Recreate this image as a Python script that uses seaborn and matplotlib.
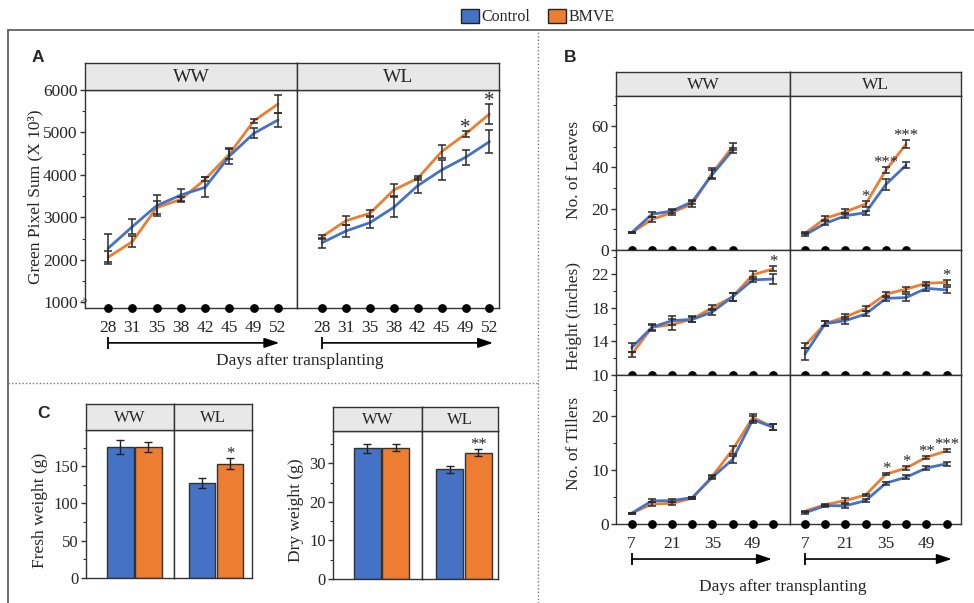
import numpy as np
import pandas as pd
import matplotlib
matplotlib.use('Agg')
import matplotlib.pyplot as plt
import matplotlib.transforms as mtransforms
import seaborn as sns
from matplotlib.patches import Patch
from matplotlib.lines import Line2D
from matplotlib.ticker import MultipleLocator, FixedLocator

# ---------------- data ----------------
treatments = ['Control', 'BMVE']
colors = {'Control': '#4472C4', 'BMVE': '#ED7D31'}

# Panel A: green pixel sum (x 10^3)
gps_days = [28, 31, 35, 38, 42, 45, 49, 52]
gps_ww_ctrl = [2275, 2784, 3278, 3529, 3710, 4447, 4980, 5294]
gps_ww_ctrl_se = [330, 175, 250, 150, 235, 195, 118, 172]
gps_ww_bmve = [2063, 2431, 3231, 3427, 3898, 4494, 5271, 5671]
gps_ww_bmve_se = [160, 125, 150, 65, 50, 120, 40, 205]
gps_wl_ctrl = [2408, 2682, 2878, 3239, 3749, 4118, 4416, 4784]
gps_wl_ctrl_se = [118, 133, 125, 235, 176, 235, 176, 275]
gps_wl_bmve = [2549, 2925, 3098, 3647, 3922, 4549, 4965, 5435]
gps_wl_bmve_se = [45, 105, 70, 137, 47, 157, 78, 235]
gps_ww_stars = {}
gps_wl_stars = {49: '*', 52: '*'}
gps_yticks = [1000, 2000, 3000, 4000, 5000, 6000]

# Panel B
leaf_days = [7, 14, 21, 28, 35, 42]
leaf_ww_ctrl = [8.4, 17.3, 18.9, 23.4, 36.6, 48.4]
leaf_ww_ctrl_se = [0.3, 1.2, 1.2, 1.0, 2.0, 1.2]
leaf_ww_bmve = [8.4, 14.8, 18.2, 22.3, 37.4, 50.0]
leaf_ww_bmve_se = [0.3, 1.0, 1.2, 1.5, 2.5, 1.7]
leaf_wl_ctrl = [7.3, 12.9, 16.6, 18.1, 31.8, 41.1]
leaf_wl_ctrl_se = [0.7, 1.0, 1.2, 1.0, 2.5, 1.5]
leaf_wl_bmve = [8.1, 15.3, 18.5, 22.3, 38.7, 51.3]
leaf_wl_bmve_se = [0.5, 1.0, 1.3, 1.5, 1.5, 2.0]
leaf_ww_stars = {}
leaf_wl_stars = {28: '*', 35: '***', 42: '***'}

grow_days = [7, 14, 21, 28, 35, 42, 49, 56]
height_ww_ctrl = [13.25, 15.66, 16.46, 16.6, 17.5, 19.3, 21.3, 21.4]
height_ww_ctrl_se = [0.5, 0.4, 0.5, 0.3, 0.4, 0.5, 0.3, 0.6]
height_ww_bmve = [12.45, 15.66, 16.0, 16.65, 18.0, 19.3, 21.9, 22.6]
height_ww_bmve_se = [0.3, 0.3, 0.6, 0.3, 0.3, 0.5, 0.5, 0.3]
height_wl_ctrl = [12.5, 16.1, 16.46, 17.25, 19.1, 19.2, 20.3, 20.1]
height_wl_ctrl_se = [0.7, 0.3, 0.4, 0.3, 0.3, 0.4, 0.3, 0.4]
height_wl_bmve = [13.5, 16.1, 16.9, 17.9, 19.6, 20.2, 20.9, 21.0]
height_wl_bmve_se = [0.3, 0.3, 0.3, 0.3, 0.3, 0.3, 0.2, 0.3]
height_ww_stars = {56: '*'}
height_wl_stars = {56: '*'}

till_ww_ctrl = [2.0, 4.3, 4.35, 4.9, 8.7, 12.0, 19.4, 18.0]
till_ww_ctrl_se = [0.1, 0.3, 0.3, 0.2, 0.3, 0.7, 0.7, 0.6]
till_ww_bmve = [2.0, 3.7, 3.85, 4.8, 8.9, 13.8, 19.8, 18.0]
till_ww_bmve_se = [0.1, 0.3, 0.3, 0.2, 0.3, 0.7, 0.7, 0.6]
till_wl_ctrl = [2.1, 3.4, 3.4, 4.35, 7.6, 8.7, 10.4, 11.2]
till_wl_ctrl_se = [0.2, 0.2, 0.4, 0.3, 0.3, 0.4, 0.3, 0.4]
till_wl_bmve = [2.4, 3.6, 4.35, 5.4, 9.25, 10.4, 12.4, 13.6]
till_wl_bmve_se = [0.1, 0.2, 0.4, 0.2, 0.2, 0.3, 0.3, 0.3]
till_ww_stars = {}
till_wl_stars = {35: '*', 42: '*', 49: '**', 56: '***'}
b_xtick_labels = [7, 21, 35, 49]
leaf_yticks = [0, 20, 40, 60]
height_yticks = [10, 14, 18, 22]
till_yticks = [0, 10, 20]

# Panel C
fresh_ww = [175.9, 176.0]
fresh_ww_se = [9, 6.5]
fresh_wl = [127.7, 153.6]
fresh_wl_se = [7, 8]
fresh_wl_star = '*'
dry_ww = [33.9, 34.0]
dry_ww_se = [1.2, 0.9]
dry_wl = [28.5, 32.8]
dry_wl_se = [0.9, 1.0]
dry_wl_star = '**'
fresh_yticks = [0, 50, 100, 150]
dry_yticks = [0, 10, 20, 30]

# ---------------- style ----------------
sns.set_style('ticks')
plt.rcParams['font.family'] = ['Liberation Serif', 'DejaVu Serif']

W, H = 974, 603
fig = plt.figure(figsize=(W / 100, H / 100), dpi=100)

EDGE = '#333333'


def box(l, t, r, b):
    return [l / W, 1 - b / H, (r - l) / W, (b - t) / H]


def style_axes(ax):
    for s in ax.spines.values():
        s.set_visible(True)
        s.set_color(EDGE)
        s.set_linewidth(1.0)


def y_ticks(ax, major, minor, fs):
    ax.yaxis.set_major_locator(FixedLocator(major))
    ax.yaxis.set_minor_locator(FixedLocator(minor))
    ax.tick_params(axis='y', which='major', length=3.8, width=1.0, pad=1.5,
                   labelsize=fs, direction='out', left=True, color=EDGE)
    ax.tick_params(axis='y', which='minor', length=2.2, width=0.8,
                   direction='out', left=True, color=EDGE)


def strip(rect, label, fs):
    sax = fig.add_axes(rect)
    sax.set_facecolor('#E8E8E8')
    sax.set_xticks([])
    sax.set_yticks([])
    for s in sax.spines.values():
        s.set_visible(True)
        s.set_color(EDGE)
        s.set_linewidth(1.0)
    sax.text(0.5, 0.47, label, ha='center', va='center', fontsize=fs)
    return sax


def line_panel(ax, x, ctrl, ctrl_se, bmve, bmve_se, stars, star_fs=12, star_dy=0):
    n = len(x)
    df = pd.DataFrame({
        'x': list(x) * 2,
        'value': list(bmve) + list(ctrl),
        'se': list(bmve_se) + list(ctrl_se),
        'Treatment': ['BMVE'] * n + ['Control'] * n,
    })
    sns.lineplot(data=df, x='x', y='value', hue='Treatment', palette=colors,
                 hue_order=['BMVE', 'Control'], ax=ax, legend=False,
                 linewidth=2.0, errorbar=None)
    ax.errorbar(df['x'], df['value'], yerr=df['se'], fmt='none',
                ecolor='#2b2b2b', elinewidth=1.1, capsize=3, capthick=1.1,
                zorder=4)
    sub = df[df.Treatment == 'BMVE'].set_index('x')
    for key, s in stars.items():
        top = sub.loc[key, 'value'] + sub.loc[key, 'se']
        ax.annotate(s, (key, top), xytext=(0, star_dy), textcoords='offset points',
                    ha='center', va='baseline', fontsize=star_fs, zorder=7)
    ax.set_xlabel('')
    ax.set_ylabel('')


def bottom_dots(ax, xs):
    y0 = ax.get_ylim()[0]
    ax.scatter(xs, [y0] * len(xs), s=28, color='black', clip_on=False, zorder=6)


def arrow(ax, x0, x1, yfrac):
    ax.annotate('', xy=(x1, yfrac), xytext=(x0, yfrac),
                xycoords=('data', 'axes fraction'),
                textcoords=('data', 'axes fraction'),
                arrowprops=dict(arrowstyle='-|>,head_length=0.9,head_width=0.3',
                                color='black', lw=1.2, shrinkA=0, shrinkB=0),
                annotation_clip=False)
    trans = mtransforms.blended_transform_factory(ax.transData, ax.transAxes)
    ax.plot([x0], [yfrac], marker='|', markersize=9, markeredgewidth=1.3,
            color='black', transform=trans, clip_on=False)


# ---------------- Panel A ----------------
posA = np.arange(len(gps_days))
specsA = [
    ('WW', box(85, 90, 297, 308), box(85, 63, 297, 90), (-0.95, 7.78),
     gps_ww_ctrl, gps_ww_ctrl_se, gps_ww_bmve, gps_ww_bmve_se, gps_ww_stars, 7.05),
    ('WL', box(297, 90, 499, 308), box(297, 63, 499, 90), (-1.05, 7.4),
     gps_wl_ctrl, gps_wl_ctrl_se, gps_wl_bmve, gps_wl_bmve_se, gps_wl_stars, 7.15),
]
for i, (lab, rect, srect, xl, c, cse, b, bse, st, ax_end) in enumerate(specsA):
    ax = fig.add_axes(rect)
    stars_pos = {gps_days.index(k): v for k, v in st.items()}
    line_panel(ax, posA, c, cse, b, bse, stars_pos, star_fs=15, star_dy=-1.5)
    ax.set_xlim(*xl)
    style_axes(ax)
    ax.set_xticks(posA)
    ax.set_xticklabels(gps_days, fontsize=12.5)
    ax.tick_params(axis='x', length=0, pad=9)
    if i == 0:
        y_ticks(ax, gps_yticks, [1500, 2500, 3500, 4500, 5500], 12.5)
        ax.text(0, 0.035, '≈', transform=ax.transAxes, ha='center', va='center',
                fontsize=8, rotation=60, color=EDGE)
    else:
        ax.set_yticks([])
    ax.set_ylim(870, 6000)
    bottom_dots(ax, posA)
    arrow(ax, 0, ax_end, -0.16)
    strip(srect, lab, 14)

fig.text(35 / W, 1 - 197 / H, 'Green Pixel Sum (X 10³)', rotation=90,
         ha='center', va='center', fontsize=12.5)
fig.text(300 / W, 1 - 361 / H, 'Days after transplanting', ha='center',
         va='center', fontsize=12.5)

# ---------------- Panel B ----------------
colsB = [('WW', 616, 790), ('WL', 790, 961)]
rowsB = [('leaf', 96, 250), ('height', 250, 375), ('till', 375, 524)]
dataB = {
    ('leaf', 'WW'): (leaf_days, leaf_ww_ctrl, leaf_ww_ctrl_se, leaf_ww_bmve, leaf_ww_bmve_se, leaf_ww_stars),
    ('leaf', 'WL'): (leaf_days, leaf_wl_ctrl, leaf_wl_ctrl_se, leaf_wl_bmve, leaf_wl_bmve_se, leaf_wl_stars),
    ('height', 'WW'): (grow_days, height_ww_ctrl, height_ww_ctrl_se, height_ww_bmve, height_ww_bmve_se, height_ww_stars),
    ('height', 'WL'): (grow_days, height_wl_ctrl, height_wl_ctrl_se, height_wl_bmve, height_wl_bmve_se, height_wl_stars),
    ('till', 'WW'): (grow_days, till_ww_ctrl, till_ww_ctrl_se, till_ww_bmve, till_ww_bmve_se, till_ww_stars),
    ('till', 'WL'): (grow_days, till_wl_ctrl, till_wl_ctrl_se, till_wl_bmve, till_wl_bmve_se, till_wl_stars),
}
ylimsB = {'leaf': (0, 74.6), 'height': (10, 24.85), 'till': (0, 27.7)}
majB = {'leaf': leaf_yticks, 'height': height_yticks, 'till': till_yticks}
minB = {'leaf': [10, 30, 50, 70], 'height': [12, 16, 20, 24], 'till': [5, 15, 25]}
xlimsB = {'WW': (1.56, 61.9), 'WL': (1.8, 61.0)}
arrow_endB = {'WW': 55.6, 'WL': 57.8}

for ci, (clab, l, r) in enumerate(colsB):
    strip(box(l, 72, r, 96), clab, 12.5)
    for row, t, b in rowsB:
        ax = fig.add_axes(box(l, t, r, b))
        x, c, cse, bm, bse, st = dataB[(row, clab)]
        line_panel(ax, x, c, cse, bm, bse, st, star_fs=12, star_dy=0)
        ax.set_xlim(*xlimsB[clab])
        style_axes(ax)
        if ci == 0:
            y_ticks(ax, majB[row], minB[row], 12.5)
        else:
            ax.set_yticks([])
        ax.set_ylim(*ylimsB[row])
        if row == 'till':
            ax.set_xticks(b_xtick_labels)
            ax.set_xticklabels(b_xtick_labels, fontsize=12.5)
            ax.tick_params(axis='x', length=0, pad=9)
            arrow(ax, 7, arrow_endB[clab], -0.235)
        else:
            ax.set_xticks([])
        bottom_dots(ax, x)

fig.text(574 / W, 1 - 170 / H, 'No. of Leaves', rotation=90, ha='center', va='center', fontsize=12.5)
fig.text(574 / W, 1 - 316 / H, 'Height (inches)', rotation=90, ha='center', va='center', fontsize=12.5)
fig.text(574 / W, 1 - 443 / H, 'No. of Tillers', rotation=90, ha='center', va='center', fontsize=12.5)
fig.text(783 / W, 1 - 587 / H, 'Days after transplanting', ha='center', va='center', fontsize=12.5)


# ---------------- Panel C ----------------
def bar_panel(ax, cond, vals, ses, star):
    df = pd.DataFrame({'cond': [cond] * 2, 'Treatment': treatments,
                       'value': vals, 'se': ses})
    sns.barplot(data=df, x='cond', y='value', hue='Treatment', palette=colors,
                hue_order=treatments, ax=ax, legend=False, width=0.64, gap=0.06,
                saturation=1, edgecolor='#333333', linewidth=1.0, errorbar=None)
    patches = sorted([p for p in ax.patches if p.get_height() > 0], key=lambda p: p.get_x())
    xs = [p.get_x() + p.get_width() / 2 for p in patches]
    ax.errorbar(xs, df['value'], yerr=df['se'], fmt='none', ecolor='#222222',
                elinewidth=1.0, capsize=3, capthick=1.0, zorder=4)
    if star:
        ax.annotate(star, (xs[1], vals[1] + ses[1]), xytext=(0, 0),
                    textcoords='offset points', ha='center', va='baseline', fontsize=12)
    ax.set_xlabel('')
    ax.set_ylabel('')
    ax.set_xticks([])


specsC = [
    (box(86, 430, 174, 578), box(86, 404, 174, 430), 'WW', fresh_ww, fresh_ww_se, None, (-0.55, 0.45), (0, 198.6), fresh_yticks, [25, 75, 125, 175], True),
    (box(174, 430, 252, 578), box(174, 404, 252, 430), 'WL', fresh_wl, fresh_wl_se, fresh_wl_star, (-0.477, 0.409), (0, 198.6), fresh_yticks, [], False),
    (box(333, 431, 422, 579), box(333, 407, 422, 431), 'WW', dry_ww, dry_ww_se, None, (-0.545, 0.455), (0, 38.4), dry_yticks, [5, 15, 25, 35], True),
    (box(422, 431, 498, 579), box(422, 407, 498, 431), 'WL', dry_wl, dry_wl_se, dry_wl_star, (-0.472, 0.382), (0, 38.4), dry_yticks, [], False),
]
for rect, srect, cond, vals, ses, star, xl, yl, maj, mn, left in specsC:
    ax = fig.add_axes(rect)
    bar_panel(ax, cond, vals, ses, star)
    ax.set_xlim(*xl)
    style_axes(ax)
    if left:
        y_ticks(ax, maj, mn, 12)
    else:
        ax.set_yticks([])
    ax.set_ylim(*yl)
    strip(srect, cond, 12)

fig.text(40 / W, 1 - 510 / H, 'Fresh weight (g)', rotation=90, ha='center', va='center', fontsize=12.5)
fig.text(296 / W, 1 - 510 / H, 'Dry weight (g)', rotation=90, ha='center', va='center', fontsize=12.5)

# ---------------- panel letters, legend, frame lines ----------------
for letter, x, y in [('A', 38, 58), ('B', 570, 58), ('C', 43, 413)]:
    fig.text(x / W, 1 - y / H, letter, ha='center', va='center', fontsize=12.5,
             fontweight='bold', family=['Liberation Sans', 'DejaVu Sans'])

handles = [Patch(facecolor=colors[t], edgecolor='#222222', linewidth=1.0) for t in treatments]
fig.legend(handles, treatments, loc='center', bbox_to_anchor=(538 / W, 1 - 17 / H),
           ncol=2, frameon=False, fontsize=11.5, handlelength=1.1, handleheight=0.95,
           handletextpad=0.2, columnspacing=1.1, borderpad=0)

fig.add_artist(Line2D([7.5 / W, 1], [1 - 30 / H] * 2, transform=fig.transFigure, color='#555555', lw=1.2))
fig.add_artist(Line2D([7.5 / W] * 2, [0, 1 - 30 / H], transform=fig.transFigure, color='#555555', lw=1.2))
fig.add_artist(Line2D([538 / W] * 2, [0, 1 - 30 / H], transform=fig.transFigure, color='#777777', lw=1.0, ls=(0, (1, 1.5))))
fig.add_artist(Line2D([7.5 / W, 538 / W], [1 - 383 / H] * 2, transform=fig.transFigure, color='#777777', lw=1.0, ls=(0, (1, 1.5))))

fig.savefig('out.png', dpi=100)
